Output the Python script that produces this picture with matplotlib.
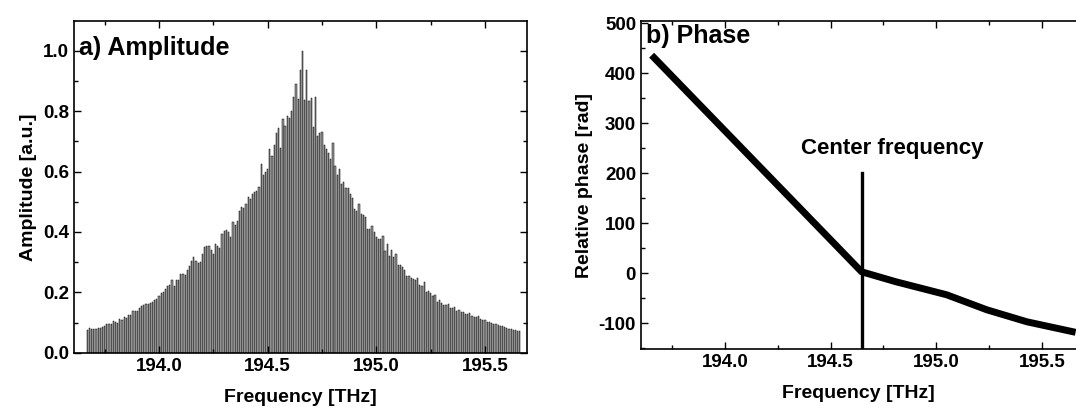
import numpy as np
import matplotlib
matplotlib.use("Agg")
import matplotlib.pyplot as plt
from matplotlib.ticker import MultipleLocator, FormatStrFormatter

plt.rcParams["font.family"] = ["Liberation Sans", "DejaVu Sans"]
plt.rcParams["font.weight"] = "bold"
plt.rcParams["axes.unicode_minus"] = False

# ── Data ──────────────────────────────────────────────────────────────────────
# spectral lines, 10 GHz spacing starting at 193.67 THz
freq_start = 193.67
freq_step = 0.01
amplitude = [
    0.075, 0.083, 0.078, 0.078, 0.080, 0.083, 0.082, 0.085, 0.090, 0.095,
    0.095, 0.097, 0.105, 0.104, 0.100, 0.113, 0.110, 0.120, 0.116, 0.127,
    0.127, 0.138, 0.138, 0.140, 0.149, 0.155, 0.160, 0.163, 0.163, 0.165,
    0.170, 0.175, 0.179, 0.190, 0.199, 0.200, 0.210, 0.220, 0.226, 0.240,
    0.223, 0.240, 0.242, 0.260, 0.262, 0.258, 0.274, 0.287, 0.303, 0.318,
    0.305, 0.296, 0.300, 0.326, 0.350, 0.355, 0.355, 0.339, 0.328, 0.359,
    0.355, 0.348, 0.394, 0.403, 0.405, 0.400, 0.383, 0.434, 0.422, 0.436,
    0.469, 0.483, 0.478, 0.493, 0.515, 0.510, 0.527, 0.532, 0.536, 0.549,
    0.626, 0.590, 0.598, 0.607, 0.675, 0.651, 0.689, 0.726, 0.744, 0.678,
    0.772, 0.752, 0.785, 0.777, 0.799, 0.847, 0.888, 0.840, 0.935, 1.000,
    0.838, 0.935, 0.832, 0.842, 0.748, 0.847, 0.717, 0.726, 0.730, 0.689,
    0.673, 0.662, 0.642, 0.693, 0.618, 0.587, 0.607, 0.560, 0.565, 0.546,
    0.546, 0.527, 0.513, 0.477, 0.471, 0.491, 0.460, 0.456, 0.449, 0.411,
    0.410, 0.419, 0.399, 0.384, 0.378, 0.378, 0.388, 0.337, 0.361, 0.320,
    0.342, 0.318, 0.326, 0.292, 0.292, 0.285, 0.274, 0.254, 0.256, 0.249,
    0.245, 0.241, 0.247, 0.226, 0.223, 0.236, 0.201, 0.204, 0.199, 0.190,
    0.192, 0.170, 0.174, 0.164, 0.160, 0.158, 0.162, 0.150, 0.148, 0.152,
    0.140, 0.142, 0.135, 0.137, 0.130, 0.128, 0.131, 0.122, 0.120, 0.118,
    0.121, 0.112, 0.110, 0.108, 0.104, 0.102, 0.100, 0.097, 0.095, 0.093,
    0.089, 0.088, 0.085, 0.083, 0.080, 0.079, 0.076, 0.077, 0.074, 0.072,
]
freq = freq_start + freq_step * np.arange(len(amplitude))

# relative phase
phase_freq = [193.653, 194.647, 194.81, 195.05, 195.24, 195.43, 195.66]
phase_val = [436, 3, -17, -43, -73, -97, -118]

center_freq = 194.65
center_line_top = 200

# ── Plot ──────────────────────────────────────────────────────────────────────
fig = plt.figure(figsize=(10.76, 4.17), dpi=100)
ax1 = fig.add_axes([0.0688, 0.1535, 0.4210, 0.7961])
ax2 = fig.add_axes([0.5957, 0.1623, 0.4043, 0.7881])

label_font = dict(fontsize=14, fontweight="bold")

# a) amplitude
ax1.bar(freq, amplitude, width=0.0055, color="#9a9a9a",
        edgecolor="black", linewidth=0.35)
ax1.set_xlim(193.609, 195.693)
ax1.set_ylim(0, 1.0975)
ax1.yaxis.set_major_locator(MultipleLocator(0.2))
ax1.yaxis.set_minor_locator(MultipleLocator(0.1))
ax1.yaxis.set_major_formatter(FormatStrFormatter("%.1f"))
ax1.set_ylabel("Amplitude [a.u.]", **label_font)
ax1.text(0.012, 0.955, "a) Amplitude", transform=ax1.transAxes,
         fontsize=18, fontweight="bold", va="top", ha="left")
ax1.tick_params(which="both", right=True)

# b) phase
ax2.plot(phase_freq, phase_val, color="black", linewidth=5,
         solid_capstyle="butt", solid_joinstyle="round")
ax2.plot([center_freq, center_freq], [-152, center_line_top],
         color="black", linewidth=2.4)
ax2.set_xlim(193.6025, 195.662)
ax2.set_ylim(-152, 505)
ax2.yaxis.set_major_locator(MultipleLocator(100))
ax2.yaxis.set_minor_locator(MultipleLocator(50))
ax2.set_ylabel("Relative phase [rad]", **label_font)
ax2.text(0.012, 0.99, "b) Phase", transform=ax2.transAxes,
         fontsize=18, fontweight="bold", va="top", ha="left")
ax2.text(194.79, 250, "Center frequency", fontsize=16,
         fontweight="bold", ha="center", va="center")
ax2.spines["right"].set_visible(False)

for ax in (ax1, ax2):
    ax.xaxis.set_major_locator(MultipleLocator(0.5))
    ax.xaxis.set_minor_locator(MultipleLocator(0.25))
    ax.xaxis.set_major_formatter(FormatStrFormatter("%.1f"))
    ax.set_xlabel("Frequency [THz]", labelpad=10, **label_font)
    ax.tick_params(which="both", direction="in", top=True,
                   width=1, labelsize=13.5)
    ax.tick_params(which="major", length=5)
    ax.tick_params(which="minor", length=3)
    for lab in ax.get_xticklabels() + ax.get_yticklabels():
        lab.set_fontweight("bold")
    for s in ax.spines.values():
        s.set_linewidth(1.2)

fig.savefig("out.png", dpi=100)
